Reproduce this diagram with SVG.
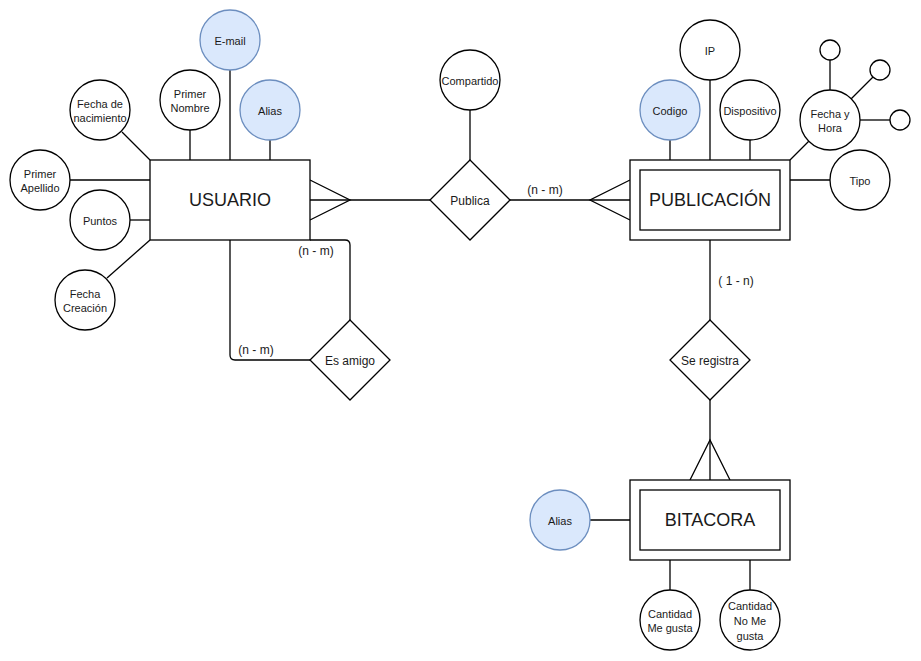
<svg xmlns="http://www.w3.org/2000/svg" width="921" height="661" viewBox="0 0 921 661">
<style>
.s{fill:none;stroke:#000;stroke-width:1.3}
.n{fill:#fff;stroke:#000;stroke-width:1.3}
.b{fill:#dae8fc;stroke:#6c8ebf;stroke-width:1.3}
text{font-family:"Liberation Sans",Arial,sans-serif;fill:#1a1a1a;text-anchor:middle;dominant-baseline:central}
.a{font-size:11px}
.c{font-size:12px}
.r{font-size:12px}
.e{font-size:18px}
</style>
<rect width="921" height="661" fill="#fff"/>
<g id="connectors" class="s">
<line x1="230" y1="70" x2="230" y2="160"/>
<line x1="190" y1="130" x2="190" y2="160"/>
<line x1="270" y1="140" x2="270" y2="160"/>
<line x1="122" y1="132" x2="150" y2="160"/>
<line x1="70" y1="180" x2="150" y2="180"/>
<line x1="130" y1="220" x2="150" y2="220"/>
<line x1="107" y1="278" x2="150" y2="240"/>
<line x1="310" y1="200" x2="430" y2="200"/>
<polyline points="310,180 350,200 310,220"/>
<line x1="510" y1="200" x2="630" y2="200"/>
<polyline points="630,180 590,200 630,220"/>
<line x1="470" y1="110" x2="470" y2="160"/>
<path d="M230,240 L230,355 Q230,360 235,360 L310,360"/>
<path d="M310,240 L345,240 Q350,240 350,245 L350,320"/>
<line x1="710" y1="80" x2="710" y2="160"/>
<line x1="670" y1="140" x2="670" y2="160"/>
<line x1="750" y1="140" x2="750" y2="160"/>
<line x1="790" y1="160" x2="809" y2="141"/>
<line x1="790" y1="180" x2="830" y2="180"/>
<line x1="830" y1="60" x2="830" y2="90"/>
<line x1="873" y1="77" x2="851" y2="99"/>
<line x1="860" y1="120" x2="890" y2="120"/>
<line x1="710" y1="240" x2="710" y2="320"/>
<line x1="710" y1="400" x2="710" y2="480"/>
<polyline points="690,480 710,440 730,480"/>
<line x1="590" y1="520" x2="630" y2="520"/>
<line x1="670" y1="560" x2="670" y2="590"/>
<line x1="750" y1="560" x2="750" y2="590"/>
</g>
<g id="labels">
<text class="c" x="545" y="190">(n - m)</text>
<text class="c" x="316" y="251">(n - m)</text>
<text class="c" x="256" y="350">(n - m)</text>
<text class="c" x="736" y="281">( 1 - n)</text>
</g>
<g id="usuario"><rect class="n" x="150" y="160" width="160" height="80"/><text class="e" x="230" y="200">USUARIO</text></g>
<g id="email"><circle class="b" cx="230" cy="40" r="30"/><text class="a" x="230" y="41">E-mail</text></g>
<g id="primer-nombre"><circle class="n" cx="190" cy="100" r="30"/><text class="a" x="190" y="94">Primer</text><text class="a" x="190" y="108">Nombre</text></g>
<g id="alias-usuario"><circle class="b" cx="270" cy="110" r="30"/><text class="a" x="270" y="111">Alias</text></g>
<g id="fecha-nacimiento"><circle class="n" cx="100" cy="110" r="30"/><text class="a" x="100" y="104">Fecha de</text><text class="a" x="100" y="118">nacimiento</text></g>
<g id="primer-apellido"><circle class="n" cx="40" cy="180" r="30"/><text class="a" x="40" y="174">Primer</text><text class="a" x="40" y="188">Apellido</text></g>
<g id="puntos"><circle class="n" cx="100" cy="220" r="30"/><text class="a" x="100" y="221">Puntos</text></g>
<g id="fecha-creacion"><circle class="n" cx="85" cy="300" r="30"/><text class="a" x="85" y="294">Fecha</text><text class="a" x="85" y="308">Creación</text></g>
<g id="publica"><polygon class="n" points="470,160 510,200 470,240 430,200"/><text class="r" x="470" y="201">Publica</text></g>
<g id="compartido"><circle class="n" cx="470" cy="80" r="30"/><text class="a" x="470" y="81">Compartido</text></g>
<g id="es-amigo"><polygon class="n" points="350,320 390,360 350,400 310,360"/><text class="r" x="350" y="361">Es amigo</text></g>
<g id="publicacion"><rect class="n" x="630" y="160" width="160" height="80"/><rect class="n" x="640" y="170" width="140" height="60"/><text class="e" x="710" y="200">PUBLICACIÓN</text></g>
<g id="ip"><circle class="n" cx="710" cy="50" r="30"/><text class="a" x="710" y="51">IP</text></g>
<g id="codigo"><circle class="b" cx="670" cy="110" r="30"/><text class="a" x="670" y="111">Codigo</text></g>
<g id="dispositivo"><circle class="n" cx="750" cy="110" r="30"/><text class="a" x="750" y="111">Dispositivo</text></g>
<g id="fecha-hora"><circle class="n" cx="830" cy="120" r="30"/><text class="a" x="830" y="114">Fecha y</text><text class="a" x="830" y="128">Hora</text></g>
<g id="sub1"><circle class="n" cx="830" cy="50" r="10"/></g>
<g id="sub2"><circle class="n" cx="880" cy="70" r="10"/></g>
<g id="sub3"><circle class="n" cx="900" cy="120" r="10"/></g>
<g id="tipo"><circle class="n" cx="860" cy="180" r="30"/><text class="a" x="860" y="181">Tipo</text></g>
<g id="se-registra"><polygon class="n" points="710,320 750,360 710,400 670,360"/><text class="r" x="710" y="361">Se registra</text></g>
<g id="bitacora"><rect class="n" x="630" y="480" width="160" height="80"/><rect class="n" x="640" y="490" width="140" height="60"/><text class="e" x="710" y="520">BITACORA</text></g>
<g id="alias-bitacora"><circle class="b" cx="560" cy="520" r="30"/><text class="a" x="560" y="521">Alias</text></g>
<g id="me-gusta"><circle class="n" cx="670" cy="620" r="30"/><text class="a" x="670" y="614">Cantidad</text><text class="a" x="670" y="628">Me gusta</text></g>
<g id="no-me-gusta"><circle class="n" cx="750" cy="620" r="30"/><text class="a" x="750" y="606">Cantidad</text><text class="a" x="750" y="621">No Me</text><text class="a" x="750" y="636">gusta</text></g>
</svg>
